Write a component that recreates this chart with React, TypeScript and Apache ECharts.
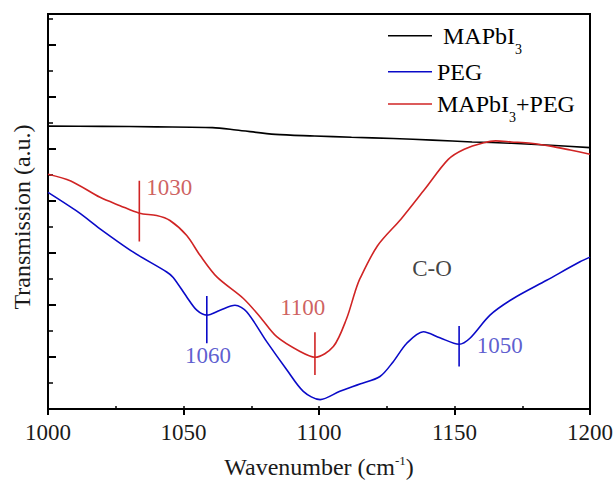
import React, { useEffect, useRef } from "react";
import * as echarts from "echarts";

const FONT = "Liberation Serif";

// Wavenumber axis
const xMin = 1000;
const xMax = 1200;
const xMajor = 50;
const xMinor = 25;

// Transmission axis (arbitrary units)
const yMin = 0;
const yMax = 15.19;

const seriesNames = ["MAPbI3", "PEG", "MAPbI3+PEG"];

const mapbi3: [number, number][] = [
  [1000, 10.88], [1020, 10.87], [1040, 10.85], [1060.7, 10.82], [1069.4, 10.73],
  [1083.9, 10.56], [1098.4, 10.5], [1112, 10.45], [1127.4, 10.4], [1141.9, 10.34],
  [1156.5, 10.27], [1171, 10.22], [1185.5, 10.14], [1200, 10.05],
];

const peg: [number, number][] = [
  [1000, 8.33], [1011.3, 7.56], [1019.2, 6.93], [1031.5, 6.03], [1043.8, 5.27],
  [1046.2, 5.06], [1051.2, 4.31], [1054.9, 3.8], [1058.6, 3.61], [1063.5, 3.8],
  [1069, 3.99], [1073.3, 3.74], [1080.7, 2.59], [1088.1, 1.51], [1094.2, 0.68],
  [1100.4, 0.36], [1107.7, 0.68], [1115.1, 0.96], [1122.5, 1.25], [1127.4, 1.82],
  [1132.4, 2.53], [1138.5, 2.97], [1144.6, 2.74], [1151.7, 2.49], [1155.7, 2.72],
  [1163.1, 3.61], [1171.7, 4.25], [1184, 4.95], [1196.3, 5.66], [1200, 5.84],
];

const mapbi3Peg: [number, number][] = [
  [1000, 9.03], [1008.4, 8.77], [1019.2, 8.14], [1026.6, 7.82], [1033.7, 7.53],
  [1040.1, 7.44], [1045, 7.25], [1051.2, 6.67], [1056.1, 5.91], [1062.3, 5.08],
  [1072.1, 4.25], [1078.2, 3.55], [1084.4, 2.78], [1093, 2.21], [1098.5, 1.99],
  [1105.3, 2.4], [1110.2, 3.48], [1113.3, 4.5], [1115.1, 5.01], [1121.6, 6.28],
  [1130.3, 7.31], [1139, 8.45], [1147.7, 9.6], [1153.6, 9.99], [1160.8, 10.24],
  [1165.2, 10.31], [1171, 10.27], [1178.2, 10.22], [1185.5, 10.11], [1192.7, 9.96],
  [1200, 9.8],
];

// Peak markers: x, lower y, upper y
const peakNames = ["1030", "1060", "1100", "1050"];
const peakX = [1033.7, 1058.6, 1098.5, 1151.7];
const peakLow = [6.44, 2.53, 1.31, 1.63];
const peakHigh = [8.78, 4.35, 2.95, 3.19];
const peakSeries = ["red", "blue", "red", "blue"];

// Annotation text anchors
const noteTexts = ["1030", "1060", "1100", "1050", "C-O"];
const noteX = [1036.4, 1059.2, 1094.2, 1158.4, 1141.9];
const noteY = [8.5, 2.05, 3.87, 2.41, 5.38];
const noteAlign = ["left", "center", "center", "left", "center"];
const noteKind = ["red", "blue", "red", "blue", "black"];

const LINE_COLORS: Record<string, string> = {
  black: "#000000",
  blue: "#0a0ac8",
  red: "#d02424",
};
const TEXT_COLORS: Record<string, string> = {
  black: "#111111",
  blue: "#3434c4",
  red: "#c23838",
};

export default function App() {
  const ref = useRef<HTMLDivElement>(null);

  useEffect(() => {
    if (!ref.current) return;
    const chart = echarts.init(ref.current, undefined, { renderer: "svg" });

    const legendRich = {
      m: { fontSize: 24, fontFamily: FONT, color: "#000", lineHeight: 24 },
      s: { fontSize: 14, fontFamily: FONT, color: "#000", lineHeight: 14, padding: [27, 0, 0, 0] },
    };
    const legendLabel: Record<string, string> = {
      MAPbI3: "{m| MAPbI}{s|3}",
      PEG: "{m|PEG}",
      "MAPbI3+PEG": "{m|MAPbI}{s|3}{m|+PEG}",
    };
    // block heights: with subscript 41, without 24
    const legendTops = [35.7 - 20.5, 71.7 - 12, 104 - 20.5];
    const legends = seriesNames.map((n, i) => ({
      data: [n],
      left: 388,
      top: legendTops[i],
      padding: 0,
      icon: "rect",
      itemWidth: 44,
      itemHeight: 1.6,
      selectedMode: false,
      formatter: (name: string) => legendLabel[name],
      textStyle: { rich: legendRich },
    }));

    const mainSeries = [mapbi3, peg, mapbi3Peg].map((d, i) => ({
      name: seriesNames[i],
      type: "line",
      data: d,
      smooth: 0.3,
      symbol: "none",
      lineStyle: { width: 1.6, color: LINE_COLORS[["black", "blue", "red"][i]] },
      itemStyle: { color: LINE_COLORS[["black", "blue", "red"][i]] },
      z: 3,
    }));

    const markerSeries = peakNames.map((n, i) => ({
      name: "peak " + n,
      type: "line",
      data: [
        [peakX[i], peakLow[i]],
        [peakX[i], peakHigh[i]],
      ],
      symbol: "none",
      lineStyle: { width: 1.6, color: LINE_COLORS[peakSeries[i]] },
      z: 4,
    }));

    const noteSeries = {
      name: "notes",
      type: "scatter",
      symbol: "circle",
      symbolSize: 1,
      itemStyle: { color: "rgba(0,0,0,0)" },
      z: 5,
      data: noteTexts.map((t, i) => ({
        value: [noteX[i], noteY[i]],
        name: t,
        label: {
          show: true,
          position: [0, 0],
          formatter: t,
          align: noteAlign[i],
          verticalAlign: "middle",
          fontSize: 23,
          fontFamily: FONT,
          color: TEXT_COLORS[noteKind[i]],
        },
      })),
    };

    chart.setOption({
      animation: false,
      backgroundColor: "#ffffff",
      textStyle: { fontFamily: FONT },
      legend: legends,
      grid: {
        left: 48,
        top: 14,
        width: 542,
        height: 397,
        show: true,
        borderColor: "#000",
        borderWidth: 2,
        backgroundColor: "transparent",
      },
      xAxis: [
        {
          type: "value",
          min: xMin,
          max: xMax,
          interval: xMajor,
          position: "bottom",
          axisLine: { show: true, lineStyle: { color: "#000", width: 2 } },
          axisTick: { show: true, inside: false, length: 6, lineStyle: { color: "#000", width: 2 } },
          axisLabel: {
            show: true,
            fontSize: 23,
            fontFamily: FONT,
            color: "#1a1a1a",
            margin: 12,
            formatter: (v: number) => String(v),
          },
          splitLine: { show: false },
          name: "{m|Wavenumber (cm}{p|-1}{m|)}",
          nameLocation: "middle",
          nameGap: 46,
          nameTextStyle: {
            rich: {
              m: { fontSize: 24, fontFamily: FONT, color: "#1a1a1a", lineHeight: 24 },
              p: { fontSize: 13, fontFamily: FONT, color: "#1a1a1a", lineHeight: 13, padding: [0, 0, 13, 0] },
            },
          },
        },
        {
          type: "value",
          min: xMin,
          max: xMax,
          interval: xMinor,
          position: "bottom",
          axisLine: { show: false },
          axisTick: { show: true, inside: true, length: 3, lineStyle: { color: "#000", width: 1.5 } },
          axisLabel: { show: false },
          splitLine: { show: false },
        },
      ],
      yAxis: [
        {
          type: "value",
          min: yMin,
          max: yMax,
          interval: 2,
          position: "left",
          axisLine: { show: true, lineStyle: { color: "#000", width: 2 } },
          axisTick: { show: true, inside: true, length: 8, lineStyle: { color: "#000", width: 2 } },
          axisLabel: { show: false },
          splitLine: { show: false },
          name: "Transmission (a.u.)",
          nameLocation: "middle",
          nameGap: 14,
          nameTextStyle: {
            fontSize: 24,
            fontFamily: FONT,
            color: "#1a1a1a",
            padding: [0, 11, 0, 0],
          },
        },
        {
          type: "value",
          min: yMin,
          max: yMax,
          interval: 1,
          position: "left",
          axisLine: { show: false },
          axisTick: { show: true, inside: true, length: 5, lineStyle: { color: "#000", width: 1.5 } },
          axisLabel: { show: false },
          splitLine: { show: false },
        },
      ],
      series: [...mainSeries, ...markerSeries, noteSeries],
    });

    return () => chart.dispose();
  }, []);

  return (
    <div
      ref={ref}
      style={{ position: "fixed", left: 0, top: 0, width: 616, height: 485, background: "#fff" }}
    />
  );
}
